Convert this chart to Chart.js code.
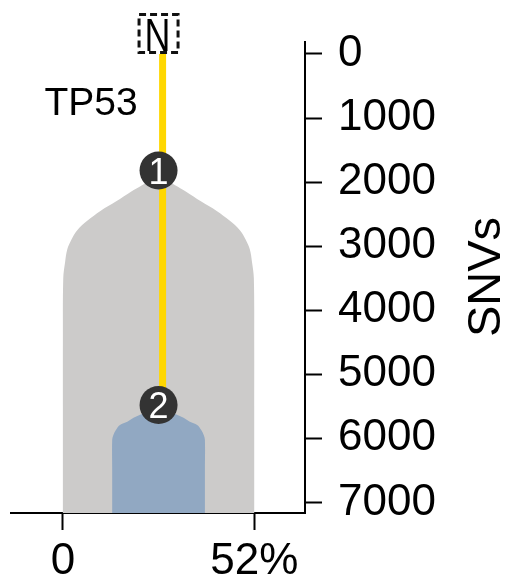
<!DOCTYPE html>
<html>
<head>
<meta charset="utf-8">
<script src="https://cdn.jsdelivr.net/npm/chart.js@4"></script>
<style>
  body { margin: 0; background: #fff; }
  #wrap { width: 511px; height: 580px; position: relative; }
</style>
</head>
<body>
<div id="wrap"><canvas id="tree"></canvas></div>
<script>
const font = '"Liberation Sans", Arial, sans-serif';

// tree nodes: normal + two clones (x = cell fraction %, y = SNVs)
const nodeLabels = ['N', '1', '2'];
const nodeSNVs = [0, 1820, 5480];
const nodeFreq = [26, 26, 26];

// trunk is drawn a little right of the node centres
const branchX = 27.1;
const branchSNVs = [0, 1820, 5480];

const mutLabels = ['TP53'];
const mutSNVs = [780];

// clone outlines: depth in SNVs and half width in %
const clone1Depth = [1890, 2050, 2150, 2300, 2450, 2600, 2750, 2900, 3050, 3250, 3500, 4500, 5500, 6500, 7000, 7300, 7400];
const clone1Half = [0, 4.5, 7.5, 11.5, 15.8, 19.3, 22.1, 23.7, 24.8, 25.4, 25.9, 26, 26, 26, 26, 26, 26];
const clone1Center = 26;
const clone2Depth = [5560, 5590, 5630, 5680, 5740, 5790, 5870, 5950, 6020, 6500, 7000, 7300, 7400];
const clone2Half = [0, 3, 5, 6.8, 8.5, 10.5, 11.6, 12.3, 12.6, 12.6, 12.6, 12.6, 12.6];
const clone2Center = 26;

const xTicks = [0, 52];
const xTickLabels = ['0', '52%'];
const yTicks = [0, 1000, 2000, 3000, 4000, 5000, 6000, 7000];

function outline(depth, half, c) {
    const left = depth.map((d, i) => ({ x: c - half[i], y: d }));
    // right side skips the apex so it isn't doubled
    const right = depth.slice(1).map((d, i) => ({ x: c + half[i + 1], y: d })).reverse();
    return left.concat(right);
}

const treeLabels = {
    id: 'treeLabels',
    afterDatasetsDraw(chart) {
        const { ctx, scales: { x, y } } = chart;
        ctx.save();

        ctx.fillStyle = '#000';
        ctx.font = '39px ' + font;
        ctx.textAlign = 'right';
        ctx.textBaseline = 'middle';
        mutLabels.forEach((m, i) => {
            ctx.fillText(m, x.getPixelForValue(branchX) - 25, y.getPixelForValue(mutSNVs[i]));
        });

        nodeLabels.forEach((lab, i) => {
            const px = x.getPixelForValue(nodeFreq[i]);
            const py = y.getPixelForValue(nodeSNVs[i]);
            if (i === 0) {
                ctx.setLineDash([7, 4]);
                ctx.lineWidth = 3;
                ctx.strokeStyle = '#111';
                ctx.strokeRect(px - 19.5, py - 39.5, 39, 38);
                ctx.setLineDash([]);
                // tall narrow N
                ctx.save();
                ctx.translate(px - 1, py - 3);
                ctx.scale(0.78, 1);
                ctx.fillStyle = '#000';
                ctx.font = '46px ' + font;
                ctx.textAlign = 'center';
                ctx.textBaseline = 'alphabetic';
                ctx.fillText(lab, 0, 0);
                ctx.restore();
            } else {
                ctx.beginPath();
                ctx.arc(px, py, 19, 0, Math.PI * 2);
                ctx.fillStyle = '#333';
                ctx.fill();
                ctx.fillStyle = '#fff';
                ctx.font = '36px ' + font;
                ctx.textAlign = 'center';
                ctx.textBaseline = 'alphabetic';
                ctx.fillText(lab, px, py + 13);
            }
        });

        // y axis title, reads bottom to top
        ctx.translate(487, 277);
        ctx.rotate(-Math.PI / 2);
        ctx.fillStyle = '#000';
        ctx.font = '47px ' + font;
        ctx.textAlign = 'center';
        ctx.textBaseline = 'middle';
        ctx.fillText('SNVs', 0, 0);
        ctx.restore();
    }
};

const ctx = document.getElementById('tree').getContext('2d');
new Chart(ctx, {
    type: 'line',
    data: {
        datasets: [
            {
                data: outline(clone1Depth, clone1Half, clone1Center),
                fill: 'shape',
                backgroundColor: '#cccbca',
                borderColor: 'transparent',
                borderWidth: 0,
                pointRadius: 0,
                tension: 0.35,
                order: 3
            },
            {
                data: outline(clone2Depth, clone2Half, clone2Center),
                fill: 'shape',
                backgroundColor: '#91a8c2',
                borderColor: 'transparent',
                borderWidth: 0,
                pointRadius: 0,
                tension: 0.35,
                order: 2
            },
            {
                data: branchSNVs.map(v => ({ x: branchX, y: v })),
                fill: false,
                borderColor: '#ffd700',
                borderWidth: 7,
                pointRadius: 0,
                order: 1
            }
        ]
    },
    options: {
        responsive: true,
        maintainAspectRatio: false,
        animation: false,
        layout: { padding: { left: 11, top: 42, right: 0, bottom: 0 } },
        plugins: {
            legend: { display: false },
            tooltip: { enabled: false }
        },
        events: [],
        scales: {
            x: {
                type: 'linear',
                position: 'bottom',
                min: -14.1,
                max: 65.8,
                afterBuildTicks: s => { s.ticks = xTicks.map(v => ({ value: v })); },
                afterFit: s => { s.height = 67; },
                border: { color: '#000', width: 2 },
                grid: { drawOnChartArea: false, tickLength: 17, tickWidth: 2, tickColor: '#000' },
                ticks: {
                    padding: 5,
                    color: '#000',
                    font: { family: font, size: 44 },
                    maxRotation: 0,
                    callback: (v) => xTickLabels[xTicks.indexOf(v)]
                }
            },
            y: {
                type: 'linear',
                position: 'right',
                reverse: true,
                min: -180,
                max: 7165,
                afterBuildTicks: s => { s.ticks = yTicks.map(v => ({ value: v })); },
                afterFit: s => { s.width = 206; },
                border: { color: '#000', width: 2 },
                grid: { drawOnChartArea: false, tickLength: 17, tickWidth: 2, tickColor: '#000' },
                ticks: {
                    padding: 16,
                    color: '#000',
                    font: { family: font, size: 44 },
                    callback: (v) => String(v)
                }
            }
        }
    },
    plugins: [treeLabels]
});
</script>
</body>
</html>
